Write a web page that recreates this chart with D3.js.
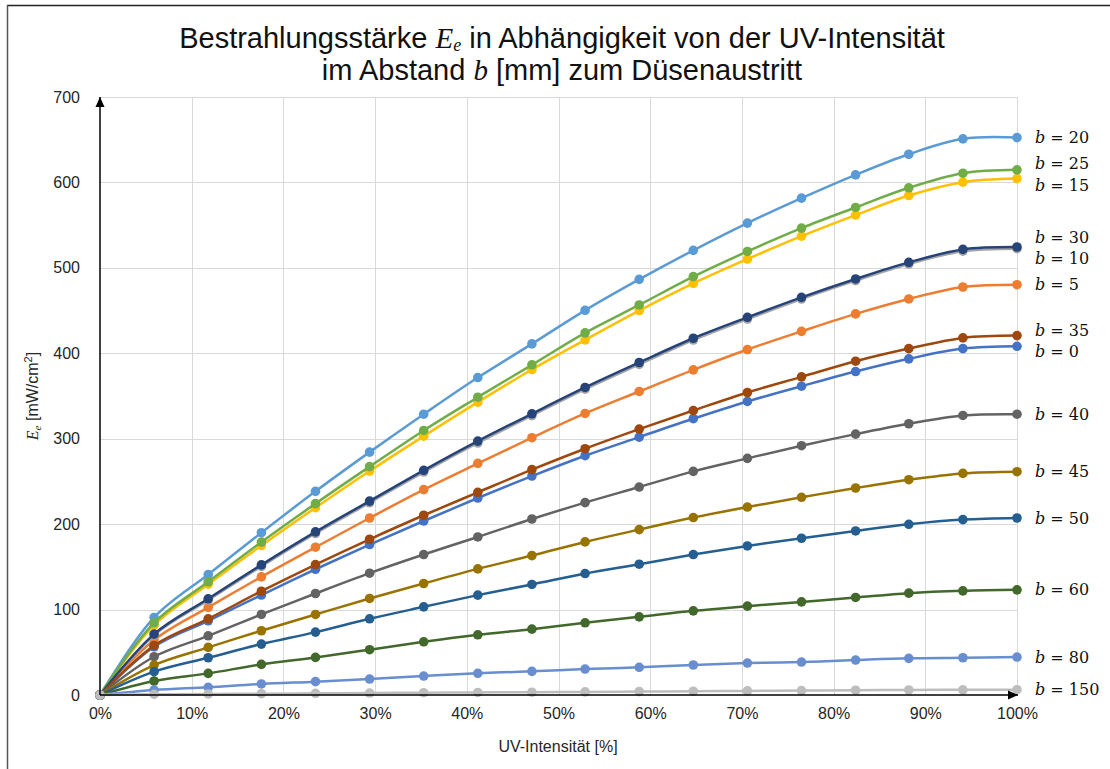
<!DOCTYPE html>
<html>
<head>
<meta charset="utf-8">
<script src="https://cdn.jsdelivr.net/npm/d3@7/dist/d3.min.js"></script>
<style>
  html, body { margin: 0; padding: 0; background: #fff; }
  svg { display: block; }
</style>
</head>
<body>
<svg id="chart" width="1110" height="769"></svg>
<script>
// ---------- DATA ----------
const intensity = [0, 5.9, 11.8, 17.6, 23.5, 29.4, 35.3, 41.2, 47.1, 52.9, 58.8, 64.7, 70.6, 76.5, 82.4, 88.2, 94.1, 100];

const b0   = [0, 56.5, 86.9, 117, 147.2, 176.1, 203.7, 230.6, 256.3, 280.1, 301.9, 323.4, 343.6, 361.5, 378.6, 393.5, 405.5, 408.2];
const b5   = [0, 64.3, 102.5, 138.3, 173, 207.2, 240.4, 271.1, 301.2, 329.6, 355.3, 380.6, 404.4, 425.7, 446.1, 463.6, 477.6, 480.3];
const b10  = [0, 70, 111, 150.5, 189, 225, 261, 295, 327, 358, 387, 415.5, 440, 463.5, 485, 504.5, 519.5, 522.5];
const b15  = [0, 81.8, 129.7, 175, 219.3, 262.2, 303, 342.8, 381, 415.7, 450, 481.8, 510.3, 537.2, 561.8, 584.7, 600.3, 604.5];
const b20  = [0, 90.8, 141, 190, 238.4, 284.3, 328.7, 371.6, 411, 450.3, 486.5, 520.5, 552.4, 581.6, 608.9, 633, 651, 652.5];
const b25  = [0, 84.5, 132.5, 179, 224, 267.3, 309.7, 348.6, 386.5, 423.9, 456.6, 489.7, 519.2, 546.5, 570.7, 593.7, 610.8, 614.7];
const b30  = [0, 71.3, 112.6, 152.3, 190.9, 227, 263, 297.2, 329.2, 360, 389.2, 417.6, 442.1, 465.5, 487, 506.4, 521.6, 524.4];
const b35  = [0, 58, 89.2, 121.5, 152.7, 182.3, 210.4, 237.2, 263.8, 288.3, 311.2, 333, 354.1, 372.4, 390.7, 405.5, 418, 420.7];
const b40  = [0, 44.8, 69.3, 94.3, 118.8, 142.6, 164.4, 185, 206, 225.2, 243.4, 261.8, 277, 291.8, 305.4, 317.5, 327.2, 328.7];
const b45  = [0, 35, 55.7, 75.2, 94.3, 113, 130.5, 147.6, 163.2, 179.2, 193.6, 207.7, 220, 231.4, 242.3, 252, 259.4, 261.4];
const b50  = [0, 27.3, 43.6, 59.6, 73.6, 89.2, 103.2, 116.9, 129.4, 142.2, 153.1, 164.4, 174.5, 183.5, 192, 199.8, 205.3, 207.2];
const b60  = [0, 16.4, 25.3, 35.8, 44, 53, 62.3, 70.5, 77.1, 84.5, 91.5, 98.5, 104, 109, 114.2, 119.2, 121.9, 123.1];
const b80  = [0, 5.8, 9, 12.9, 15.6, 18.7, 22.2, 25.4, 27.7, 30.4, 32.4, 35.1, 37.4, 38.6, 40.9, 42.9, 43.6, 44.4];
const b150 = [0, 0.8, 1.2, 1.5, 2, 2.3, 2.7, 3, 3.3, 3.6, 4, 4.4, 4.8, 5.2, 5.6, 5.9, 6.1, 6.2];

const distances = [0, 5, 10, 15, 20, 25, 30, 35, 40, 45, 50, 60, 80, 150];
const seriesValues = [b0, b5, b10, b15, b20, b25, b30, b35, b40, b45, b50, b60, b80, b150];
const seriesColors = ["#4472C4", "#ED7D31", "#A5A5A5", "#FFC000", "#5B9BD5", "#70AD47", "#264478",
                      "#9E480E", "#636363", "#997300", "#255E91", "#43682B", "#698ED0", "#BDBDBD"];

const yTicks = [0, 100, 200, 300, 400, 500, 600, 700];
const xTicks = [0, 10, 20, 30, 40, 50, 60, 70, 80, 90, 100];

// ---------- LAYOUT ----------
const svg = d3.select("#chart");
const x = d3.scaleLinear().domain([0, 100]).range([100, 1017]);
const y = d3.scaleLinear().domain([0, 700]).range([695, 97]);

// frame
svg.append("line").attr("x1", 7).attr("x2", 1110).attr("y1", 5.5).attr("y2", 5.5)
  .attr("stroke", "#222").attr("stroke-width", 1.5);
svg.append("line").attr("x1", 7.5).attr("x2", 7.5).attr("y1", 5).attr("y2", 769)
  .attr("stroke", "#555").attr("stroke-width", 1.5);

// gridlines
const grid = svg.append("g");
grid.selectAll("line.h").data(yTicks.filter(d => d > 0)).join("line")
  .attr("x1", x(0)).attr("x2", x(100))
  .attr("y1", d => Math.round(y(d)) + 0.5).attr("y2", d => Math.round(y(d)) + 0.5)
  .attr("stroke", "#D9D9D9").attr("stroke-width", 1);
grid.selectAll("line.v").data(xTicks.filter(d => d > 0)).join("line")
  .attr("x1", d => Math.round(x(d)) + 0.5).attr("x2", d => Math.round(x(d)) + 0.5)
  .attr("y1", y(700)).attr("y2", y(0))
  .attr("stroke", "#D9D9D9").attr("stroke-width", 1);

// axes (tick labels via d3 axes)
const yAxis = svg.append("g").attr("transform", `translate(${x(0)},0)`)
  .call(d3.axisLeft(y).tickValues(yTicks).tickSize(0).tickPadding(20).tickFormat(d3.format("d")));
yAxis.select(".domain").remove();
yAxis.selectAll("text").attr("font-family", "Liberation Sans, Arial, sans-serif")
  .attr("font-size", 16).attr("fill", "#262626");

const xAxis = svg.append("g").attr("transform", `translate(0,${y(0)})`)
  .call(d3.axisBottom(x).tickValues(xTicks).tickSize(0).tickPadding(13).tickFormat(d => d + "%"));
xAxis.select(".domain").remove();
xAxis.selectAll("text").attr("font-family", "Liberation Sans, Arial, sans-serif")
  .attr("font-size", 16).attr("fill", "#262626");

// series
const line = d3.line()
  .x((d, i) => x(intensity[i]))
  .y(d => y(d))
  .curve(d3.curveCatmullRom.alpha(0.5));

const series = distances.map((b, i) => ({ b, values: seriesValues[i], color: seriesColors[i] }));

const sg = svg.append("g");
series.forEach(s => {
  const g = sg.append("g");
  g.append("path").attr("d", line(s.values)).attr("fill", "none")
    .attr("stroke", s.color).attr("stroke-width", 2.5).attr("stroke-linejoin", "round");
  g.selectAll("circle").data(s.values).join("circle")
    .attr("cx", (d, i) => x(intensity[i])).attr("cy", d => y(d))
    .attr("r", 4.8).attr("fill", s.color);
});

// axis lines with arrows
svg.append("defs").append("marker").attr("id", "arrow")
  .attr("viewBox", "0 0 10 10").attr("refX", 10).attr("refY", 5)
  .attr("markerWidth", 10).attr("markerHeight", 10).attr("markerUnits", "userSpaceOnUse")
  .attr("orient", "auto")
  .append("path").attr("d", "M0,0.5 L10,5 L0,9.5 Z").attr("fill", "#000");
svg.append("line").attr("x1", x(0)).attr("x2", x(0)).attr("y1", y(0)).attr("y2", y(700))
  .attr("stroke", "#000").attr("stroke-width", 1.5).attr("marker-end", "url(#arrow)");
svg.append("line").attr("x1", x(0)).attr("x2", x(100) + 1).attr("y1", y(0)).attr("y2", y(0))
  .attr("stroke", "#000").attr("stroke-width", 1.5).attr("marker-end", "url(#arrow)");

// end labels with simple collision avoidance
const gap = 21.5;
let blocks = series.map(s => ({ items: [{ s, target: y(s.values[s.values.length - 1]) }] }))
  .sort((a, b) => a.items[0].target - b.items[0].target);
function blockPos(bl) {
  const n = bl.items.length;
  const mean = d3.mean(bl.items, d => d.target);
  return mean - (n - 1) * gap / 2;
}
let merged = true;
while (merged) {
  merged = false;
  for (let i = 0; i < blocks.length - 1; i++) {
    const a = blocks[i], b = blocks[i + 1];
    const aEnd = blockPos(a) + (a.items.length - 1) * gap;
    if (blockPos(b) - aEnd < gap) {
      blocks.splice(i, 2, { items: a.items.concat(b.items) });
      merged = true;
      break;
    }
  }
}
const labelsG = svg.append("g");
blocks.forEach(bl => {
  const start = blockPos(bl);
  bl.items.forEach((it, j) => {
    const t = labelsG.append("text")
      .attr("x", 1035).attr("y", start + j * gap)
      .attr("dy", "0.35em")
      .attr("font-family", "DejaVu Serif, Liberation Serif, serif")
      .attr("font-size", 16).attr("fill", "#111");
    t.append("tspan").attr("font-style", "italic").text("b");
    t.append("tspan").text(" = " + it.s.b);
  });
});

// title
const title = svg.append("text").attr("x", 562).attr("text-anchor", "middle")
  .attr("font-family", "Liberation Sans, Arial, sans-serif").attr("font-size", 29).attr("fill", "#111");
const l1 = title.append("tspan").attr("x", 562).attr("y", 48);
l1.append("tspan").text("Bestrahlungsstärke ");
l1.append("tspan").attr("font-family", "Liberation Serif, serif").attr("font-style", "italic").text("E");
l1.append("tspan").attr("font-family", "Liberation Serif, serif").attr("font-style", "italic")
  .attr("font-size", 18).attr("dy", 3).text("e");
l1.append("tspan").attr("dy", -3).text(" in Abhängigkeit von der UV-Intensität");
const l2 = title.append("tspan").attr("x", 562).attr("y", 80);
l2.append("tspan").text("im Abstand ");
l2.append("tspan").attr("font-family", "Liberation Serif, serif").attr("font-style", "italic").text("b");
l2.append("tspan").text(" [mm] zum Düsenaustritt");

// axis titles
svg.append("text").attr("x", 558).attr("y", 752).attr("text-anchor", "middle")
  .attr("font-family", "Liberation Sans, Arial, sans-serif").attr("font-size", 16).attr("fill", "#262626")
  .text("UV-Intensität [%]");

const yl = svg.append("text").attr("transform", "translate(38,396) rotate(-90)").attr("text-anchor", "middle")
  .attr("font-family", "Liberation Sans, Arial, sans-serif").attr("font-size", 16).attr("fill", "#262626");
yl.append("tspan").attr("font-family", "Liberation Serif, serif").attr("font-style", "italic").text("E");
yl.append("tspan").attr("font-family", "Liberation Serif, serif").attr("font-style", "italic")
  .attr("font-size", 11).attr("dy", 3).text("e");
yl.append("tspan").attr("dy", -3).text(" [mW/cm");
yl.append("tspan").attr("font-size", 11).attr("dy", -6).text("2");
yl.append("tspan").attr("dy", 6).text("]");
</script>
</body>
</html>
